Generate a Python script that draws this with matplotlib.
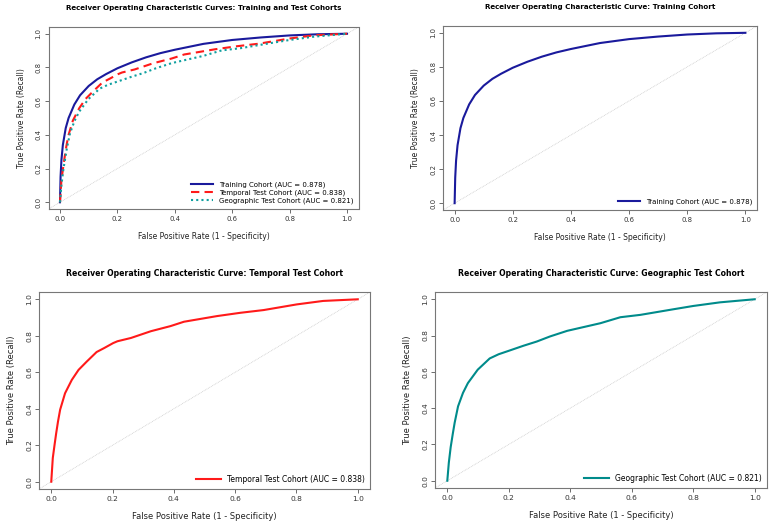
import matplotlib
matplotlib.use("Agg")
import matplotlib.pyplot as plt

# ROC points
train_fpr = [0, 0.002, 0.005, 0.01, 0.02, 0.03, 0.05, 0.07, 0.1, 0.13, 0.16, 0.2, 0.25,
             0.3, 0.35, 0.4, 0.5, 0.6, 0.7, 0.8, 0.9, 1.0]
train_tpr = [0, 0.15, 0.25, 0.34, 0.44, 0.5, 0.58, 0.635, 0.69, 0.73, 0.76, 0.795, 0.83,
             0.86, 0.885, 0.905, 0.94, 0.963, 0.978, 0.99, 0.997, 1.0]

temp_fpr = [0, 0.005, 0.011, 0.016, 0.022, 0.029, 0.045, 0.067, 0.089, 0.116, 0.148, 0.173,
            0.202, 0.216, 0.26, 0.325, 0.389, 0.433, 0.541, 0.617, 0.693, 0.801, 0.887, 1.0]
temp_tpr = [0, 0.13, 0.205, 0.265, 0.33, 0.395, 0.485, 0.558, 0.613, 0.659, 0.711, 0.733,
            0.76, 0.77, 0.788, 0.825, 0.853, 0.877, 0.908, 0.926, 0.941, 0.972, 0.991, 1.0]

geo_fpr = [0, 0.005, 0.011, 0.018, 0.024, 0.035, 0.051, 0.067, 0.083, 0.099, 0.116, 0.138,
           0.167, 0.2, 0.248, 0.291, 0.334, 0.39, 0.498, 0.563, 0.628, 0.736, 0.8, 0.887, 1.0]
geo_tpr = [0, 0.1, 0.185, 0.26, 0.32, 0.41, 0.484, 0.538, 0.575, 0.612, 0.639, 0.674,
           0.697, 0.716, 0.744, 0.767, 0.795, 0.826, 0.868, 0.901, 0.914, 0.945, 0.963,
           0.983, 1.0]

labels = ["Training Cohort (AUC = 0.878)",
          "Temporal Test Cohort (AUC = 0.838)",
          "Geographic Test Cohort (AUC = 0.821)"]
colors = ["#1a1a9c", "#ff1a1a", "#10a0a0"]
titles = ["Receiver Operating Characteristic Curves: Training and Test Cohorts",
          "Receiver Operating Characteristic Curve: Training Cohort",
          "Receiver Operating Characteristic Curve: Temporal Test Cohort",
          "Receiver Operating Characteristic Curve: Geographic Test Cohort"]

W, H = 772, 526
fig = plt.figure(figsize=(W / 100, H / 100), dpi=100)

# panel boxes in pixels: left, top, right, bottom
boxes = [(48.5, 27, 358.5, 209), (443, 26, 757, 210),
         (39, 292, 370, 489), (435, 292, 767, 488)]
# top row images were scaled a bit smaller than the bottom row
scales = [0.92, 0.92, 1.0, 1.0]


def make_ax(i):
    l, t, r, b = boxes[i]
    s = scales[i]
    ax = fig.add_axes([l / W, 1 - b / H, (r - l) / W, (b - t) / H])
    ax.set_xlim(-0.04, 1.04)
    ax.set_ylim(-0.04, 1.04)
    ticks = [0, 0.2, 0.4, 0.6, 0.8, 1.0]
    ax.set_xticks(ticks)
    ax.set_yticks(ticks)
    ax.set_xticklabels(["%.1f" % v for v in ticks])
    ax.set_yticklabels(["%.1f" % v for v in ticks], rotation=90, va="center")
    ax.tick_params(labelsize=5.4 * s, length=3, width=0.6, color="#555555",
                   labelcolor="#333333", pad=2)
    for sp in ax.spines.values():
        sp.set_color("#777777")
        sp.set_linewidth(0.8)
    ax.plot([-0.04, 1.04], [-0.04, 1.04], color="#cccccc", lw=0.6, ls=(0, (1, 1)))
    ax.set_xlabel("False Positive Rate (1 - Specificity)", fontsize=6.0 * s,
                  color="#222222", labelpad=7)
    ax.set_ylabel("True Positive Rate (Recall)", fontsize=6.0 * s,
                  color="#222222", labelpad=7)
    fig.text((l + r) / 2 / W, 1 - (t - 19) / H, titles[i], ha="center", va="center",
             fontsize=5.55 * s, fontweight="bold")
    return ax


def legend(ax, s):
    ax.legend(loc="lower right", frameon=False, fontsize=5.5 * s, handlelength=3.2,
              borderaxespad=0.3, labelspacing=0.2)


ax1 = make_ax(0)
ax1.plot(train_fpr, train_tpr, color=colors[0], lw=1.5, label=labels[0])
ax1.plot(temp_fpr, temp_tpr, color=colors[1], lw=1.5, ls=(0, (4, 2.5)), label=labels[1])
ax1.plot(geo_fpr, geo_tpr, color=colors[2], lw=1.5, ls=(0, (1, 1.5)), label=labels[2])
legend(ax1, scales[0])

ax2 = make_ax(1)
ax2.plot(train_fpr, train_tpr, color=colors[0], lw=1.5, label=labels[0])
legend(ax2, scales[1])

ax3 = make_ax(2)
ax3.plot(temp_fpr, temp_tpr, color=colors[1], lw=1.5, label=labels[1])
legend(ax3, scales[2])

ax4 = make_ax(3)
ax4.plot(geo_fpr, geo_tpr, color="#008b8b", lw=1.5, label=labels[2])
legend(ax4, scales[3])

fig.savefig("out.png", dpi=100)
